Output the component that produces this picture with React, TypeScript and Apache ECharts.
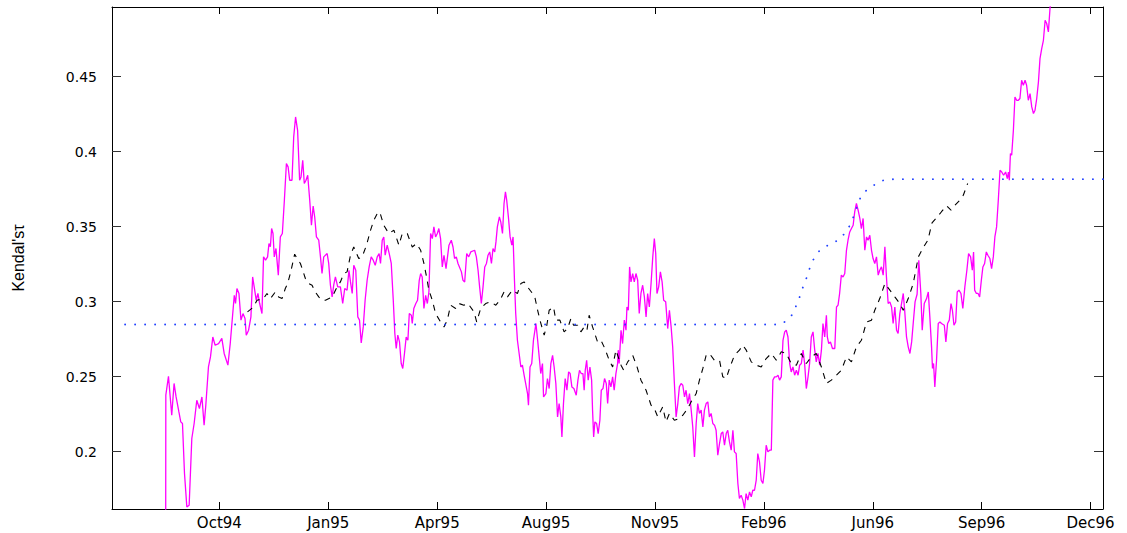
import React, { useEffect, useRef } from "react";
import * as echarts from "echarts";

// Trading-day index of each tick (one tick every 70 trading days) and its label
const tickDays = [69, 139, 209, 279, 349, 419, 489, 559, 629];
const tickLabels = ["Oct94", "Jan95", "Apr95", "Aug95", "Nov95", "Feb96", "Jun96", "Sep96", "Dec96"];
const dayMin = 0;
const dayMax = 637;

const tauTicks = [0.2, 0.25, 0.3, 0.35, 0.4, 0.45];
const tauMin = 0.1618;
const tauMax = 0.4965;

// Kendall's tau estimated on a moving window: [trading day, tau]
const sampleTau: [number, number][] = [
  [34.5, 0.14], [34.6, 0.2377], [36.3, 0.2503], [38.4, 0.2243], [39.9, 0.2455], [41.2, 0.2365], [43.0, 0.2265], [44.2, 0.2199],
  [45.3, 0.2188], [46.6, 0.1855], [48.1, 0.1632], [49.6, 0.1643], [51.3, 0.2088], [52.8, 0.2188], [54.5, 0.2343], [56.2, 0.2288],
  [57.8, 0.2365], [59.2, 0.2177], [60.3, 0.231], [62.0, 0.2565], [63.3, 0.2632], [64.8, 0.2765], [66.3, 0.271], [68.5, 0.2721],
  [70.6, 0.2755], [72.1, 0.2655], [74.5, 0.2577], [76.0, 0.2721], [78.6, 0.3043], [79.4, 0.2988], [80.3, 0.3088], [81.6, 0.3055],
  [82.9, 0.2877], [84.2, 0.2921], [85.5, 0.2888], [86.3, 0.2777], [87.8, 0.281], [89.3, 0.2899], [90.4, 0.3165], [91.4, 0.3099],
  [92.7, 0.301], [93.8, 0.3055], [94.9, 0.2988], [96.4, 0.2921], [97.4, 0.3299], [98.7, 0.3277], [100.0, 0.3299], [100.9, 0.3388],
  [101.8, 0.3366], [102.6, 0.3488], [103.5, 0.3455], [104.3, 0.3299], [105.4, 0.3355], [106.9, 0.3177], [108.2, 0.3432], [109.5, 0.3455],
  [110.8, 0.3677], [112.1, 0.3921], [113.2, 0.3899], [114.2, 0.381], [115.7, 0.381], [116.8, 0.4099], [118.0, 0.4232], [119.3, 0.4143],
  [120.6, 0.381], [121.5, 0.3832], [122.6, 0.3943], [123.6, 0.3788], [124.7, 0.381], [125.8, 0.3843], [127.1, 0.3677], [128.2, 0.351],
  [129.3, 0.3637], [130.3, 0.3565], [131.4, 0.3432], [132.9, 0.341], [134.0, 0.3299], [135.0, 0.3188], [136.1, 0.3299], [138.3, 0.3321],
  [139.3, 0.3255], [140.4, 0.311], [141.5, 0.3032], [142.5, 0.311], [143.6, 0.3165], [145.1, 0.3099], [146.8, 0.3099], [148.3, 0.2988],
  [149.6, 0.3088], [151.1, 0.3077], [152.3, 0.321], [153.3, 0.3132], [154.4, 0.3055], [155.4, 0.3243], [156.7, 0.321], [158.0, 0.2899],
  [159.1, 0.2877], [160.2, 0.2725], [161.5, 0.2832], [162.7, 0.301], [164.0, 0.3143], [165.3, 0.3232], [166.6, 0.3299], [167.9, 0.3277],
  [169.2, 0.3243], [170.5, 0.3299], [171.7, 0.3321], [172.6, 0.3255], [173.7, 0.341], [174.7, 0.3432], [175.6, 0.331], [176.9, 0.3377],
  [178.2, 0.3321], [179.5, 0.3255], [180.8, 0.301], [181.8, 0.2788], [182.7, 0.2688], [183.7, 0.2777], [184.8, 0.2732], [185.9, 0.2588],
  [186.9, 0.2555], [188.0, 0.2655], [189.1, 0.2765], [190.2, 0.2743], [191.1, 0.2921], [192.4, 0.291], [193.0, 0.2855], [194.0, 0.2955],
  [195.3, 0.2988], [196.4, 0.301], [197.5, 0.3143], [198.4, 0.3188], [199.4, 0.3165], [200.5, 0.2955], [201.6, 0.3043], [202.7, 0.2988],
  [203.7, 0.3065], [204.8, 0.3455], [205.9, 0.3421], [206.9, 0.3499], [208.0, 0.3432], [209.1, 0.3455], [210.1, 0.3488], [211.2, 0.3421],
  [212.3, 0.3232], [213.4, 0.331], [214.7, 0.3221], [216.6, 0.3377], [218.1, 0.341], [219.2, 0.3365], [220.2, 0.3288], [221.3, 0.3299],
  [222.4, 0.3255], [224.6, 0.3199], [225.6, 0.3143], [226.7, 0.3132], [228.0, 0.3321], [229.3, 0.3299], [230.6, 0.3332], [233.1, 0.3343],
  [234.2, 0.3299], [235.3, 0.321], [236.3, 0.3099], [237.4, 0.2988], [238.5, 0.3099], [239.6, 0.3232], [240.7, 0.3255], [241.7, 0.331],
  [242.8, 0.3332], [243.9, 0.3255], [244.9, 0.3355], [246.0, 0.3332], [246.8, 0.3399], [247.7, 0.3499], [249.0, 0.3565], [249.9, 0.3532],
  [251.0, 0.3455], [252.0, 0.3655], [252.9, 0.3732], [253.7, 0.3677], [254.8, 0.3565], [255.9, 0.3432], [257.0, 0.3377], [257.8, 0.3432],
  [258.7, 0.3143], [259.5, 0.2921], [260.6, 0.2743], [261.7, 0.2655], [262.8, 0.2565], [263.8, 0.2577], [264.9, 0.251], [267.1, 0.2388],
  [267.7, 0.231], [268.7, 0.2565], [269.8, 0.2588], [270.9, 0.2743], [272.5, 0.2855], [273.6, 0.2743], [274.6, 0.2632], [275.6, 0.2521],
  [276.7, 0.2588], [277.4, 0.2365], [278.9, 0.2388], [279.9, 0.2488], [281.0, 0.2421], [282.1, 0.2588], [283.2, 0.2643], [284.2, 0.2565],
  [285.3, 0.2455], [286.4, 0.2232], [287.4, 0.2321], [288.5, 0.2232], [289.2, 0.2099], [290.2, 0.2321], [291.3, 0.2488], [292.4, 0.241],
  [293.5, 0.2532], [294.5, 0.2521], [295.6, 0.2432], [296.9, 0.2421], [298.4, 0.2377], [299.5, 0.2477], [300.5, 0.2543], [301.6, 0.2521],
  [302.7, 0.2521], [303.5, 0.241], [304.2, 0.2543], [305.1, 0.261], [306.1, 0.2477], [307.2, 0.2565], [308.3, 0.2477], [308.9, 0.2277],
  [309.6, 0.2099], [310.4, 0.2199], [311.5, 0.2188], [312.5, 0.2121], [313.6, 0.221], [314.5, 0.241], [315.6, 0.2421], [316.6, 0.2488],
  [317.7, 0.2455], [318.6, 0.2321], [319.6, 0.2477], [320.7, 0.2432], [321.8, 0.2499], [322.8, 0.241], [323.9, 0.2521], [325.0, 0.2588],
  [325.4, 0.2677], [326.0, 0.2588], [327.2, 0.281], [328.2, 0.2721], [329.3, 0.2877], [330.4, 0.281], [331.0, 0.2965], [331.9, 0.2943],
  [332.7, 0.3232], [333.6, 0.3132], [334.7, 0.3188], [335.7, 0.3132], [336.8, 0.3188], [337.9, 0.3143], [338.9, 0.2921], [340.0, 0.3055],
  [341.1, 0.311], [342.2, 0.3032], [343.3, 0.2899], [344.3, 0.3055], [345.4, 0.2965], [346.5, 0.3121], [347.6, 0.3299], [348.6, 0.3421],
  [349.5, 0.3321], [350.3, 0.3055], [351.4, 0.3099], [352.5, 0.3199], [353.6, 0.3132], [354.6, 0.301], [355.9, 0.2999], [357.2, 0.2821],
  [358.3, 0.2943], [359.4, 0.2832], [360.4, 0.2699], [361.5, 0.2455], [362.6, 0.2232], [363.7, 0.2321], [364.7, 0.2432], [365.8, 0.2455],
  [366.9, 0.2443], [368.0, 0.2365], [369.0, 0.241], [370.1, 0.2321], [371.2, 0.2388], [372.3, 0.2277], [373.3, 0.2165], [374.4, 0.1965],
  [375.5, 0.2188], [376.5, 0.2321], [377.6, 0.2255], [378.7, 0.2277], [379.8, 0.2165], [380.8, 0.2277], [381.9, 0.2321], [383.0, 0.2332],
  [384.0, 0.2232], [385.1, 0.2255], [386.2, 0.2188], [387.3, 0.2177], [388.3, 0.2143], [389.4, 0.1977], [390.5, 0.2054], [391.6, 0.2121],
  [392.6, 0.2132], [393.7, 0.2043], [394.8, 0.2121], [395.8, 0.2143], [396.9, 0.2065], [398.0, 0.201], [399.1, 0.2143], [400.1, 0.1999],
  [401.2, 0.1988], [402.3, 0.1788], [403.3, 0.1688], [404.4, 0.171], [405.5, 0.1677], [406.6, 0.1621], [407.6, 0.1721], [408.7, 0.1677],
  [409.8, 0.1732], [410.9, 0.1699], [411.9, 0.1743], [413.0, 0.1743], [414.1, 0.181], [415.1, 0.1988], [416.2, 0.1932], [417.3, 0.181],
  [418.4, 0.1788], [419.4, 0.1877], [420.5, 0.2043], [421.6, 0.1999], [422.7, 0.201], [423.8, 0.201], [424.8, 0.2477], [425.9, 0.2499],
  [427.0, 0.2499], [428.1, 0.251], [429.1, 0.2477], [430.2, 0.2499], [431.3, 0.2743], [432.4, 0.2799], [433.4, 0.281], [434.5, 0.2765],
  [435.6, 0.2588], [436.6, 0.2532], [437.7, 0.2565], [438.8, 0.251], [439.9, 0.2543], [441.0, 0.251], [442.0, 0.2577], [443.1, 0.2588],
  [444.2, 0.2677], [445.2, 0.2588], [446.3, 0.2421], [447.4, 0.2499], [448.4, 0.2588], [449.5, 0.2765], [450.6, 0.2799], [451.7, 0.2677],
  [452.7, 0.2599], [453.8, 0.2655], [454.9, 0.2577], [456.0, 0.2677], [457.0, 0.2855], [458.1, 0.2765], [459.2, 0.291], [459.8, 0.2765],
  [460.7, 0.2721], [461.8, 0.2732], [463.1, 0.2688], [464.6, 0.2688], [465.7, 0.2965], [466.7, 0.2977], [467.7, 0.3055], [468.8, 0.3177],
  [469.9, 0.3165], [471.0, 0.3188], [472.1, 0.3343], [473.1, 0.341], [474.2, 0.3465], [475.3, 0.3488], [476.4, 0.351], [477.4, 0.3599],
  [478.5, 0.3655], [479.6, 0.361], [480.7, 0.3555], [481.7, 0.3488], [482.8, 0.3555], [483.9, 0.3343], [485.0, 0.3432], [486.0, 0.341],
  [487.1, 0.3443], [488.2, 0.3343], [489.2, 0.3288], [490.3, 0.3255], [491.4, 0.3299], [492.5, 0.3177], [493.5, 0.321], [494.6, 0.3232],
  [495.7, 0.3177], [496.8, 0.3366], [497.8, 0.3165], [498.9, 0.2988], [500.0, 0.2999], [501.1, 0.2965], [502.1, 0.2855], [503.2, 0.2965],
  [504.3, 0.281], [505.3, 0.2788], [506.4, 0.2921], [507.5, 0.2988], [508.6, 0.3055], [509.6, 0.2932], [510.7, 0.2765], [511.8, 0.2699],
  [512.9, 0.2655], [514.0, 0.2732], [515.0, 0.2855], [516.2, 0.2999], [517.5, 0.305], [518.6, 0.3277], [519.9, 0.3055], [520.8, 0.281],
  [522.1, 0.2988], [523.6, 0.3021], [524.7, 0.3065], [525.7, 0.2899], [526.8, 0.2699], [527.4, 0.2555], [528.1, 0.2588], [528.9, 0.2432],
  [530.0, 0.261], [531.1, 0.2855], [532.2, 0.2865], [533.2, 0.2855], [535.0, 0.2843], [536.0, 0.2732], [537.1, 0.2855], [538.2, 0.2877],
  [539.3, 0.2988], [540.2, 0.2943], [541.2, 0.2843], [542.3, 0.2865], [543.3, 0.3065], [544.4, 0.3077], [545.7, 0.3055], [546.9, 0.2955],
  [548.2, 0.3099], [549.5, 0.321], [550.6, 0.3321], [551.9, 0.3299], [553.0, 0.321], [553.8, 0.3332], [554.5, 0.3077], [555.6, 0.3055],
  [556.7, 0.3055], [557.7, 0.3032], [558.8, 0.3143], [559.8, 0.3232], [560.9, 0.3255], [562.0, 0.3332], [563.0, 0.331], [564.3, 0.3288],
  [565.4, 0.3221], [566.5, 0.3299], [567.5, 0.3432], [568.6, 0.3499], [569.7, 0.3677], [570.8, 0.3877], [571.9, 0.3865], [573.1, 0.3843],
  [574.4, 0.3865], [575.5, 0.3821], [576.2, 0.3865], [576.8, 0.381], [577.5, 0.3988], [578.3, 0.3977], [579.4, 0.4143], [580.4, 0.4365],
  [581.5, 0.4343], [582.6, 0.4343], [583.6, 0.4355], [584.7, 0.4477], [585.8, 0.4443], [586.9, 0.4477], [587.9, 0.4443], [589.0, 0.4343],
  [590.1, 0.4388], [591.2, 0.4299], [592.3, 0.4255], [593.3, 0.4277], [594.4, 0.4355], [595.5, 0.4466], [596.5, 0.4621], [597.6, 0.4688],
  [598.7, 0.4743], [599.8, 0.4877], [600.8, 0.4855], [601.9, 0.4799], [603.0, 0.4965], [604.1, 0.506],
];

// Smoothed estimate: [trading day, tau]
const smoothedTau: [number, number][] = [
  [87.1, 0.2932], [91.0, 0.2965], [93.2, 0.301], [95.3, 0.3015], [97.4, 0.3021], [99.6, 0.3055], [101.8, 0.3021], [105.0, 0.3065],
  [107.1, 0.3032], [109.3, 0.3021], [111.4, 0.3088], [112.9, 0.3121], [114.6, 0.3188], [116.1, 0.3255], [117.4, 0.3317], [118.9, 0.3288],
  [121.1, 0.3255], [122.6, 0.321], [124.3, 0.3155], [126.4, 0.3121], [128.6, 0.311], [130.7, 0.3065], [132.9, 0.3032], [135.0, 0.301],
  [137.2, 0.301], [141.5, 0.3032], [144.7, 0.3099], [146.8, 0.3132], [149.0, 0.3188], [151.1, 0.3199], [153.3, 0.331], [155.4, 0.3365],
  [158.6, 0.3288], [160.8, 0.3299], [163.6, 0.3377], [166.2, 0.3477], [168.3, 0.3543], [170.5, 0.3588], [172.1, 0.3599], [174.7, 0.351],
  [177.9, 0.3455], [181.2, 0.3477], [184.4, 0.3377], [186.6, 0.3455], [189.8, 0.3455], [193.0, 0.3365], [195.8, 0.3388], [198.4, 0.3343],
  [200.5, 0.3255], [202.2, 0.3165], [203.7, 0.3077], [205.9, 0.301], [208.0, 0.2921], [211.2, 0.2865], [213.4, 0.2832], [215.5, 0.2877],
  [217.7, 0.2977], [220.9, 0.2955], [223.0, 0.2988], [226.2, 0.2977], [228.8, 0.2988], [232.7, 0.2932], [234.4, 0.2865], [237.0, 0.2955],
  [240.2, 0.2988], [243.4, 0.2999], [246.7, 0.2977], [249.4, 0.301], [252.0, 0.3065], [254.2, 0.3032], [257.4, 0.3077], [260.6, 0.3055],
  [262.8, 0.3121], [264.9, 0.3132], [267.1, 0.3099], [270.3, 0.3055], [271.8, 0.303], [273.6, 0.2943], [275.1, 0.2877], [277.8, 0.2777],
  [279.5, 0.2843], [281.0, 0.2943], [283.8, 0.2965], [285.3, 0.2877], [287.9, 0.2877], [290.6, 0.2799], [292.8, 0.2821], [295.0, 0.2888],
  [296.7, 0.2843], [299.3, 0.2843], [301.4, 0.2799], [303.5, 0.2832], [305.3, 0.281], [306.7, 0.291], [308.9, 0.2832], [312.1, 0.2732],
  [314.3, 0.2743], [316.8, 0.2688], [319.6, 0.261], [321.8, 0.2565], [323.9, 0.2677], [325.4, 0.2632], [327.2, 0.2577], [328.9, 0.2543],
  [331.5, 0.2599], [334.7, 0.2643], [337.5, 0.2565], [340.0, 0.2477], [343.3, 0.241], [346.5, 0.231], [348.6, 0.2288], [350.8, 0.2232],
  [354.0, 0.2299], [356.1, 0.2199], [358.3, 0.2255], [361.5, 0.221], [364.7, 0.2221], [366.9, 0.2243], [370.1, 0.2288], [372.2, 0.2332],
  [375.5, 0.2388], [377.6, 0.2477], [379.8, 0.2555], [381.9, 0.2643], [384.0, 0.2655], [387.2, 0.261], [390.5, 0.261], [392.6, 0.2499],
  [394.8, 0.2488], [396.9, 0.2555], [400.1, 0.2643], [403.3, 0.2677], [405.5, 0.271], [407.7, 0.2677], [410.9, 0.2599], [414.1, 0.2577],
  [417.3, 0.2565], [420.5, 0.2621], [423.8, 0.2655], [427.0, 0.261], [430.2, 0.2666], [433.4, 0.2655], [436.6, 0.2588], [439.9, 0.2577],
  [443.1, 0.2655], [446.3, 0.2588], [449.5, 0.2632], [452.7, 0.2655], [456.0, 0.2565], [459.2, 0.2455], [462.4, 0.2477], [465.6, 0.251],
  [468.8, 0.2543], [472.1, 0.2632], [475.3, 0.2599], [478.5, 0.2699], [481.7, 0.2743], [485.0, 0.2865], [488.2, 0.2877], [490.3, 0.2943],
  [493.5, 0.3021], [496.8, 0.3121], [500.0, 0.3077], [503.2, 0.3032], [506.4, 0.2988], [508.6, 0.2943], [511.8, 0.3021], [515.0, 0.3121],
  [518.3, 0.3299], [521.7, 0.3365], [524.4, 0.341], [527.1, 0.3525], [530.0, 0.356], [533.2, 0.36], [536.5, 0.364], [539.3, 0.361],
  [541.8, 0.3643], [545.0, 0.3677], [547.2, 0.371], [550.0, 0.3788],
];

// Model-implied tau: [trading day, tau]
const modelTau: [number, number][] = [
  [8.4, 0.2848], [429.1, 0.2848], [434.5, 0.2877], [437.7, 0.2921], [439.9, 0.2977], [442.0, 0.3032], [444.2, 0.3099], [446.3, 0.3155],
  [448.4, 0.3221], [450.6, 0.3277], [452.7, 0.331], [454.9, 0.3343], [458.1, 0.3365], [462.4, 0.3388], [466.7, 0.341], [469.9, 0.3443],
  [472.7, 0.3477], [475.3, 0.3532], [477.4, 0.3588], [479.6, 0.3655], [481.7, 0.371], [485.0, 0.3743], [488.2, 0.3765], [491.4, 0.3788],
  [494.6, 0.3805], [497.8, 0.3815], [503.0, 0.3817], [637, 0.3817],
];

const labelByDay = new Map<number, string>(tickDays.map((d, i) => [d, tickLabels[i]]));

export default function App() {
  const ref = useRef<HTMLDivElement>(null);

  useEffect(() => {
    if (!ref.current) return;
    const chart = echarts.init(ref.current, null, { renderer: "svg" });

    const frameLine = { show: true, onZero: false, lineStyle: { color: "#000", width: 1 } };
    const xBase = { type: "value", min: dayMin, max: dayMax, splitLine: { show: false }, axisLine: frameLine };
    const yBase = { type: "value", min: tauMin, max: tauMax, splitLine: { show: false }, axisLine: frameLine };

    chart.setOption({
      animation: false,
      backgroundColor: "#fff",
      grid: { left: 112, right: 24, top: 7, bottom: 24, containLabel: false },
      xAxis: [
        {
          ...xBase,
          position: "bottom",
          axisTick: { inside: true, length: 7, customValues: tickDays, lineStyle: { color: "#000" } },
          axisLabel: {
            customValues: tickDays,
            formatter: (v: number) => labelByDay.get(Math.round(v)) ?? "",
            fontFamily: "DejaVu Sans",
            fontSize: 15,
            color: "#000",
            margin: 6,
          },
        },
        {
          ...xBase,
          position: "top",
          axisTick: { inside: true, length: 7, customValues: tickDays, lineStyle: { color: "#000" } },
          axisLabel: { show: false },
        },
      ],
      yAxis: [
        {
          ...yBase,
          position: "left",
          name: "Kendal'sτ",
          nameLocation: "middle",
          nameRotate: 90,
          nameGap: 86,
          nameTextStyle: { fontFamily: "Liberation Sans", fontSize: 16, color: "#000" },
          axisTick: { inside: true, length: 9, customValues: tauTicks, lineStyle: { color: "#333" } },
          axisLabel: {
            customValues: tauTicks,
            formatter: (v: number) => String(Number(v.toFixed(2))),
            fontFamily: "DejaVu Sans",
            fontSize: 14,
            color: "#000",
            margin: 15,
          },
        },
        {
          ...yBase,
          position: "right",
          axisTick: { inside: true, length: 9, customValues: tauTicks, lineStyle: { color: "#333" } },
          axisLabel: { show: false },
        },
      ],
      series: [
        {
          type: "line",
          data: sampleTau,
          showSymbol: false,
          clip: true,
          lineStyle: { color: "#ff00ff", width: 1.3 },
        },
        {
          type: "line",
          data: smoothedTau,
          showSymbol: false,
          clip: true,
          lineStyle: { color: "#000", width: 1.1, type: [6, 6] },
        },
        {
          type: "line",
          data: modelTau,
          showSymbol: false,
          clip: true,
          lineStyle: { color: "#2040ff", width: 1.8, type: [0.1, 9.9], cap: "round" },
        },
      ],
    });

    return () => chart.dispose();
  }, []);

  return (
    <div
      ref={ref}
      style={{ position: "fixed", left: 0, top: 0, width: 1127, height: 533, background: "#fff" }}
    />
  );
}
